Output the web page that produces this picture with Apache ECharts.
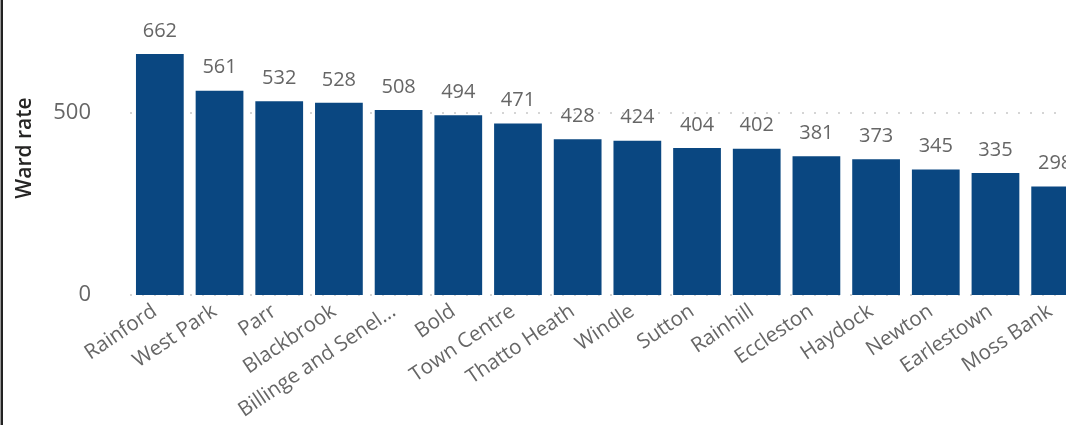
<!DOCTYPE html>
<html>
<head>
<meta charset="utf-8">
<script src="https://cdn.jsdelivr.net/npm/echarts@6/dist/echarts.min.js"></script>
<style>
html,body{margin:0;padding:0;background:#fff;}
#c{width:1066px;height:425px;}
#edge{position:absolute;left:0;top:0;width:1px;height:425px;background:#999;border-right:2px solid #222;}
</style>
</head>
<body>
<div id="c"></div>
<div id="edge"></div>
<script>
const categories = ["Rainford","West Park","Parr","Blackbrook","Billinge and Seneley Green","Bold","Town Centre","Thatto Heath","Windle","Sutton","Rainhill","Eccleston","Haydock","Newton","Earlestown","Moss Bank"];
const wardRate = [662,561,532,528,508,494,471,428,424,404,402,381,373,345,335,298];
const yTicks = [0,500];

const FONT = '"Open Sans", "Noto Sans", sans-serif';
const chart = echarts.init(document.getElementById('c'));
chart.setOption({
  animation:false,
  grid:{left:130,right:-19,top:-69,bottom:130,containLabel:false,outerBoundsMode:'none'},
  xAxis:{
    type:'category',
    data:categories,
    axisLine:{show:false},
    axisTick:{show:false},
    axisLabel:{
      rotate:34,
      interval:0,
      margin:11,
      padding:[0,6,0,0],
      color:'#666',
      fontSize:20.5,
      fontFamily:FONT,
      width:189,
      overflow:'truncate',
      ellipsis:'...'
    }
  },
  yAxis:{
    type:'value',
    min:0,
    max:1000,
    interval:500,
    axisLine:{show:false},
    axisTick:{show:false},
    axisLabel:{
      color:'#666',
      fontSize:22,
      fontFamily:FONT,
      margin:39,
      formatter:function(v){return yTicks.indexOf(v)>=0?String(v):'';}
    },
    splitLine:{show:true,lineStyle:{color:'#c8c8c8',width:1.5,type:[2,10]}}
  },
  graphic:[{
    type:'text',
    rotation:Math.PI/2,
    x:25,y:148,
    style:{text:'Ward rate',fill:'#252423',font:'600 21px '+FONT,textAlign:'center',textVerticalAlign:'middle'}
  }],
  series:[{
    type:'bar',
    data:wardRate,
    barCategoryGap:'20%',
    itemStyle:{color:'#0a4781'},
    label:{
      show:true,
      position:'top',
      distance:13,
      color:'#666',
      fontSize:20,
      fontFamily:FONT
    }
  }]
});
</script>
</body>
</html>
